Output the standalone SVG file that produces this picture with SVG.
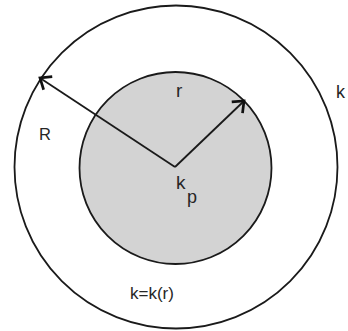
<svg xmlns="http://www.w3.org/2000/svg" width="348" height="331" viewBox="0 0 348 331">
<style>
.c{stroke:#1a1a1a;stroke-width:1.8}
.t{font-family:"Liberation Sans",Arial,sans-serif;fill:#262626}
</style>
<defs>
<marker id="ah" viewBox="0 0 18 18" refX="14" refY="9" markerWidth="18" markerHeight="18" markerUnits="userSpaceOnUse" orient="auto" overflow="visible">
<path d="M4.5,1.2 L14,9 L4.5,16.8" fill="none" stroke="#111" stroke-width="2.7"/>
</marker>
</defs>
<rect width="348" height="331" fill="#fff"/>
<g id="outer"><circle class="c" cx="176" cy="167" r="161.5" fill="none"/></g>
<g id="inner"><circle class="c" cx="175.5" cy="168" r="96" fill="#d3d3d3"/></g>
<g id="connectors">
<line class="c" x1="175" y1="167" x2="40" y2="78" marker-end="url(#ah)"/>
<line class="c" x1="175" y1="167" x2="244" y2="101" marker-end="url(#ah)"/>
</g>
<g id="labels">
<text class="t" x="176" y="97" font-size="19">r</text>
<text class="t" x="39" y="140" font-size="16.5">R</text>
<text class="t" x="176" y="189" font-size="19">k</text>
<text class="t" x="187" y="203" font-size="18">p</text>
<text class="t" x="130" y="299" font-size="17">k=k(r)</text>
<text class="t" x="336" y="98" font-size="18">k</text>
</g>
</svg>
